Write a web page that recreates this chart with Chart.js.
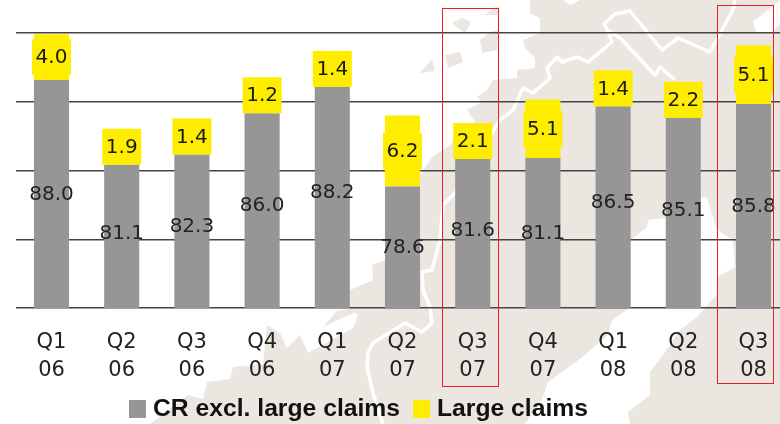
<!DOCTYPE html>
<html>
<head>
<meta charset="utf-8">
<script src="https://cdn.jsdelivr.net/npm/chart.js@4"></script>
<style>
html, body { margin: 0; padding: 0; background: #fff; width: 780px; height: 424px; overflow: hidden; }
#map, #chart, #legend { position: absolute; left: 0; top: 0; }
#legend { left: 129px; top: 393px; font: bold 24.7px "Liberation Sans", Arial, sans-serif; color: #111; white-space: nowrap; line-height: 30px; }
#legend span.box { display: inline-block; width: 17px; height: 18px; margin-right: 7px; vertical-align: -2px; }
#legend span.item { margin-right: 13px; }
</style>
</head>
<body>
<!-- map behind the chart, only decoration -->
<svg id="map" width="780" height="424" viewBox="0 0 780 424">
  <path fill="#ebe7e0" d="M530 0 L530 13 L540 18 L540 33 L523 40 L525 48 L535 58 L535 68 L517 70 L517 78 L493 80 L487 90 L477 97 L482 102 L467 110 L475 122 L450 145 L432 157 L420 175 L385 260 L372 265 L373 280 L350 290 L350 309 L358 315 L353 328 L308 353 L300 335 L287 348 L280 333 L267 325 L263 364 L233 367 L230 379 L207 382 L203 399 L188 395 L150 424 L780 424 L780 0 Z"/>
  <path fill="#fff" d="M525 424 L542 399 L548 382 L580 359 L608 335 L612 320 L631 307 L631 240 L647 227 L648 220 L665 218 L701 197 L707 197 L710 208 L717 230 L733 240 L735 267 L717 277 L718 293 L697 317 L680 330 L663 355 L650 372 L650 395 L628 412 L630 424 Z"/>
  <path fill="#fff" d="M780 0 L753 22 L757 33 L773 32 L780 23 Z M563 0 L570 5 L580 0 Z"/>
  <path fill="#ebe7e0" d="M452 23 L462 18 L471 22 L465 33 Z M445 55 L460 52 L463 62 L448 68 Z M420 73 L432 59 L435 71 Z M480 40 L482 53 L497 50 L499 30 L490 32 Z M485 15 L495 7 L499 7 L497 15 Z M323 327 L337 311 L350 309 L356 312 Z"/>
  <g fill="none" stroke="#fff" stroke-width="3.5" stroke-linejoin="round">
    <path d="M383 424 L373 393 L367 367 L368 353 L373 343 L405 323 L422 332 L432 323 L430 307 L423 290 L422 272 L432 270 L440 240 L443 205 L455 193 L500 120 L513 110 L523 88 L533 93 L550 78 L547 68 L557 57 L562 62 L577 57 L588 62 L612 42 L607 29 L604 24 L615 14 L630 11 L662 50 L678 38 L710 52 L733 10 L735 0"/>
    <path d="M607 30 L620 38 L655 75 L660 67 L675 80"/>
  </g>
</svg>
<canvas id="chart" width="800" height="424"></canvas>
<div id="legend"></div>
<script>
const quarters = [['Q1', '06'], ['Q2', '06'], ['Q3', '06'], ['Q4', '06'], ['Q1', '07'], ['Q2', '07'], ['Q3', '07'], ['Q4', '07'], ['Q1', '08'], ['Q2', '08'], ['Q3', '08']];
// bar heights, the printed numbers do not always sit on them
const crHeights = [87.9, 80.5, 81.4, 85.0, 87.3, 78.6, 81.0, 81.1, 85.6, 84.6, 85.8];
const crPrinted = [88.0, 81.1, 82.3, 86.0, 88.2, 78.6, 81.6, 81.1, 86.5, 85.1, 85.8];
const largeClaims = [4.0, 1.9, 1.4, 1.2, 1.4, 6.2, 2.1, 5.1, 1.4, 2.2, 5.1];
const axisTicks = [68, 74, 80, 86, 92];

const GREY = '#969696';
const YELLOW = '#ffed00';
const LABEL_FONT = '20px "DejaVu Sans"';

const barLabels = {
    id: 'barLabels',
    afterDatasetsDraw(chart) {
        const ctx = chart.ctx;
        const grey = chart.getDatasetMeta(0).data;
        const yellow = chart.getDatasetMeta(1).data;
        const bottom = chart.chartArea.bottom;
        const yScale = chart.scales.y;
        ctx.save();
        ctx.font = LABEL_FONT;
        ctx.textAlign = 'center';
        ctx.textBaseline = 'middle';
        yellow.forEach((bar, i) => {
            // yellow box is at least as tall as the text and sits on the grey bar
            const cy = Math.min((bar.y + bar.base) / 2, bar.base - 18);
            ctx.fillStyle = YELLOW;
            ctx.fillRect(bar.x - 19.5, cy - 18, 39, 36);
            ctx.fillStyle = '#1a1a1a';
            ctx.fillText(largeClaims[i].toFixed(1), bar.x, cy + 1);
            ctx.fillStyle = '#222';
            ctx.fillText(crPrinted[i].toFixed(1), grey[i].x, (yScale.getPixelForValue(crPrinted[i]) + bottom) / 2 + 1);
        });
        ctx.restore();
    }
};

const redBoxes = {
    id: 'redBoxes',
    afterDraw(chart) {
        const ctx = chart.ctx;
        ctx.save();
        ctx.strokeStyle = '#ee1c25';
        ctx.lineWidth = 1;
        ctx.strokeRect(442.5, 8.5, 56, 378);
        ctx.strokeRect(717.5, 5.5, 56, 378);
        ctx.restore();
    }
};

const chart = new Chart(document.getElementById('chart'), {
    type: 'bar',
    plugins: [barLabels, redBoxes],
    data: {
        labels: quarters,
        datasets: [
            { label: 'CR excl. large claims', data: crHeights, backgroundColor: GREY },
            { label: 'Large claims', data: largeClaims, backgroundColor: YELLOW }
        ]
    },
    options: {
        responsive: false,
        animation: false,
        layout: { padding: { left: 16.4, right: 11.4, top: 33 } },
        datasets: { bar: { categoryPercentage: 1, barPercentage: 0.5 } },
        plugins: { legend: { display: false }, tooltip: { enabled: false } },
        scales: {
            x: {
                stacked: true,
                afterFit: (scale) => { scale.height = 116; },
                border: { display: false },
                grid: { display: false, drawTicks: false },
                ticks: {
                    color: '#222',
                    padding: 21,
                    maxRotation: 0,
                    autoSkip: false,
                    font: { family: 'DejaVu Sans', size: 21, lineHeight: 1.33 }
                }
            },
            y: {
                stacked: true,
                min: axisTicks[0],
                max: axisTicks[axisTicks.length - 1],
                afterFit: (scale) => { scale.width = 0; },
                afterBuildTicks: (scale) => { scale.ticks = axisTicks.map((v) => ({ value: v })); },
                border: { display: false },
                grid: { color: '#444', lineWidth: 1.5, drawTicks: false },
                ticks: { display: false }
            }
        }
    }
});

const legend = document.getElementById('legend');
chart.data.datasets.forEach((ds) => {
    const item = document.createElement('span');
    item.className = 'item';
    const box = document.createElement('span');
    box.className = 'box';
    box.style.background = ds.backgroundColor;
    item.appendChild(box);
    item.appendChild(document.createTextNode(ds.label));
    legend.appendChild(item);
});
</script>
</body>
</html>
